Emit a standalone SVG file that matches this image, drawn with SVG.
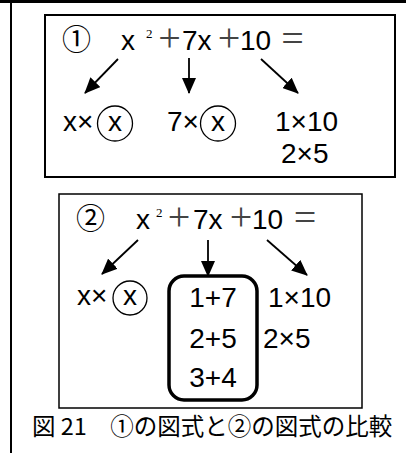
<svg xmlns="http://www.w3.org/2000/svg" width="406" height="453" viewBox="0 0 406 453">
<style>
.t{font-family:"Liberation Sans",Arial,sans-serif;font-size:28px;fill:#000}
.s{font-family:"Liberation Serif","Times New Roman",serif;font-size:40px;fill:#444;text-anchor:middle}
.sup{font-family:"Liberation Serif","Times New Roman",serif;font-size:13px;fill:#000}
.c{font-family:"Noto Sans CJK JP",sans-serif;font-size:29px;fill:#000}
.cap{font-family:"Noto Sans CJK JP",sans-serif;font-size:23.5px;fill:#000}
.box{fill:none;stroke:#000}
.ring{fill:none;stroke:#000;stroke-width:1.3}
.arr{stroke:#000;stroke-width:1.8;fill:none;marker-end:url(#ah)}
</style>
<defs>
<marker id="ah" markerUnits="userSpaceOnUse" markerWidth="16" markerHeight="14" refX="15" refY="7" orient="auto">
<path d="M0,0 L16,7 L0,14 z" fill="#000"/>
</marker>
</defs>
<rect width="406" height="453" fill="#fff"/>
<g id="frame">
<line x1="0" y1="1.5" x2="406" y2="1.5" stroke="#000" stroke-width="3"/>
<line x1="11" y1="0" x2="11" y2="453" stroke="#000" stroke-width="2"/>
</g>
<g id="box1">
<rect class="box" x="45" y="15" width="350" height="162" stroke-width="2"/>
<text class="c" x="62" y="50">①</text>
<text class="t" x="121" y="50">x</text>
<text class="sup" x="146" y="38">2</text>
<text class="s" x="169.5" y="51">+</text>
<text class="t" x="182" y="50">7x</text>
<text class="s" x="229" y="51">+</text>
<text class="t" x="240" y="50">10</text>
<text class="s" x="292.5" y="52">=</text>
<text class="t" x="63" y="131">x×</text>
<circle class="ring" cx="115" cy="123.5" r="17.5"/>
<text class="t" x="115" y="131" text-anchor="middle">x</text>
<text class="t" x="167" y="131">7×</text>
<circle class="ring" cx="218" cy="123.5" r="17.5"/>
<text class="t" x="218" y="131" text-anchor="middle">x</text>
<text class="t" x="275" y="131">1×10</text>
<text class="t" x="281" y="163">2×5</text>
</g>
<g id="box2">
<rect class="box" x="59" y="194" width="303" height="214" stroke-width="1.5"/>
<text class="c" x="76" y="229">②</text>
<text class="t" x="136" y="229">x</text>
<text class="sup" x="156" y="217">2</text>
<text class="s" x="179" y="230">+</text>
<text class="t" x="193" y="229">7x</text>
<text class="s" x="241" y="230">+</text>
<text class="t" x="252" y="229">10</text>
<text class="s" x="305" y="231">=</text>
<text class="t" x="77" y="305">x×</text>
<circle class="ring" cx="130" cy="298" r="17"/>
<text class="t" x="130" y="305" text-anchor="middle">x</text>
<rect x="169" y="276" width="88" height="124" rx="15" fill="none" stroke="#000" stroke-width="3.5"/>
<text class="t" x="213" y="307" text-anchor="middle">1+7</text>
<text class="t" x="213" y="348" text-anchor="middle">2+5</text>
<text class="t" x="213" y="387" text-anchor="middle">3+4</text>
<text class="t" x="268" y="307">1×10</text>
<text class="t" x="263" y="348">2×5</text>
</g>
<g id="connectors">
<line class="arr" x1="118" y1="59" x2="85" y2="93"/>
<line class="arr" x1="189" y1="58" x2="189" y2="93"/>
<line class="arr" x1="261" y1="59" x2="298" y2="93"/>
<line class="arr" x1="138" y1="240" x2="102" y2="274"/>
<line class="arr" x1="208" y1="240" x2="208" y2="276"/>
<line class="arr" x1="267" y1="240" x2="307" y2="275"/>
</g>
<g id="caption">
<text class="cap" x="32" y="435">図 21　①の図式と②の図式の比較</text>
</g>
</svg>
